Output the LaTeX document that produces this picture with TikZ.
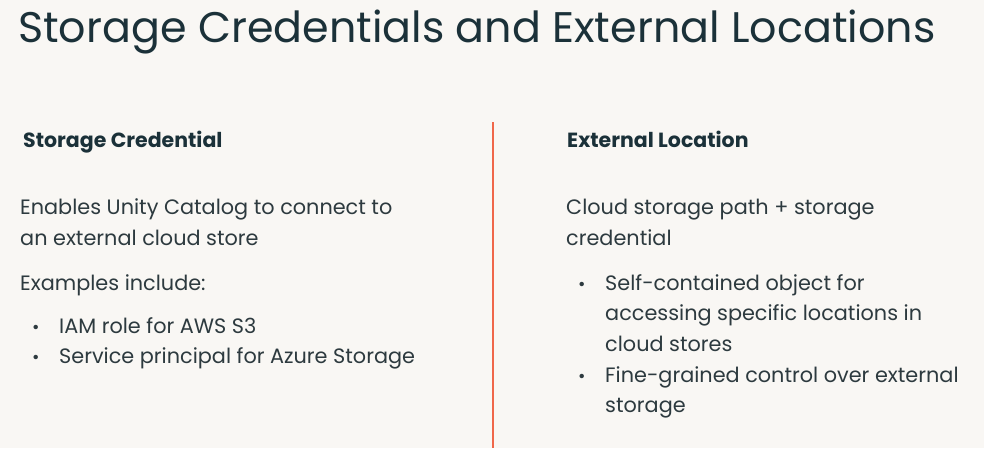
\documentclass[tikz,border=0pt]{standalone}
\usepackage{fontspec}
\setmainfont{Poppins}
\usetikzlibrary{positioning}
\definecolor{slidebg}{HTML}{F9F7F4}
\definecolor{navy}{HTML}{1B3139}
\definecolor{bodytext}{HTML}{2D3A3F}
\definecolor{divline}{HTML}{F0674A}
\begin{document}
\begin{tikzpicture}[
        x=1pt, y=-1pt,
        txt/.style={inner sep=0pt, anchor=base west, align=left},
        title/.style={txt, text=navy, font=\fontsize{42.8}{50}\selectfont},% slide title
        head/.style={txt, text=navy, font=\bfseries\fontsize{20.5}{24}\selectfont},% column heading
        body/.style={txt, text=bodytext, font=\fontsize{20.8}{30.5}\selectfont},% body text, anchored at its last line
        dot/.style={txt, text=bodytext, font=\fontsize{18}{20}\selectfont},% bullet mark
    ]
        \fill[slidebg] (0,0) rectangle (984,448);
        \useasboundingbox (0,0) rectangle (984,448);

        \node[title] (slideTitle) at (18,42) {Storage Credentials and External Locations};

        % divider between the two columns
        \coordinate (divTop) at (493,122);
        \coordinate (divBottom) at (493,448);
        \draw[divline, line width=1.2pt] (divTop) -- (divBottom);

        % left column
        \node[head] (credHead) at (23,147) {Storage Credential};
        \node[body] (credText) at (20,245) {Enables Unity Catalog to connect to\\an external cloud store};
        \node[body] (credExamples) at (20,290) {Examples include:};
        \node[dot] (credDot1) at (32,333) {•};
        \node[body] (credItem1) at (59,333) {IAM role for AWS S3};
        \node[dot] (credDot2) at (32,363) {•};
        \node[body] (credItem2) at (59,363) {Service principal for Azure Storage};

        % right column
        \node[head] (locHead) at (567,147) {External Location};
        \node[body] (locText) at (566,245) {Cloud storage path + storage\\credential};
        \node[dot] (locDot1) at (578,290) {•};
        \node[body] (locItem1) at (605,351) {Self-contained object for\\accessing specific locations in\\cloud stores};
        \node[dot] (locDot2) at (578,382) {•};
        \node[body] (locItem2) at (605,412.5) {Fine-grained control over external\\storage};
\end{tikzpicture}
\end{document}
